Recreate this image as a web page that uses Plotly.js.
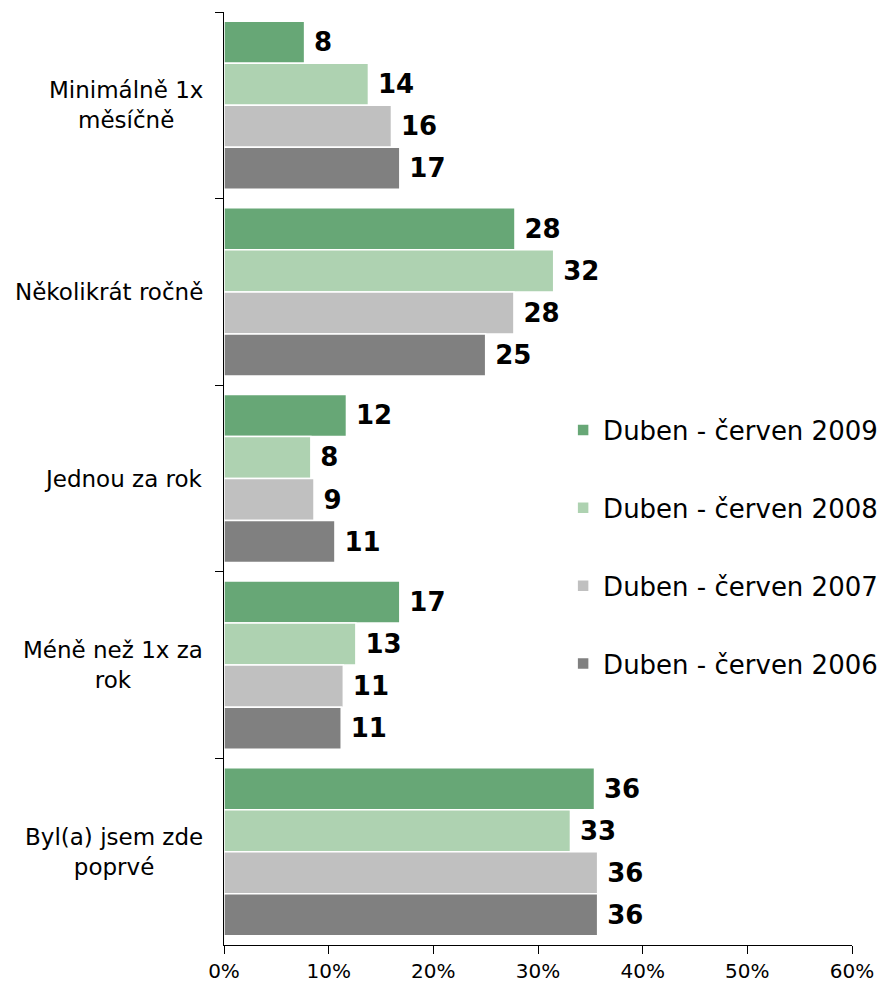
<!DOCTYPE html>
<html>
<head>
<meta charset="utf-8">
<script src="https://cdn.plot.ly/plotly-3.0.1.min.js"></script>
<style>
  html, body { margin: 0; padding: 0; background: #ffffff; }
  #chart { width: 885px; height: 987px; }
</style>
</head>
<body>
<div id="chart"></div>
<script>
// Categories (top to bottom)
const categories = [
  "Minimálně 1x<br>měsíčně",
  "Několikrát ročně",
  "Jednou za rok",
  "Méně než 1x za<br>rok",
  "Byl(a) jsem zde<br>poprvé"
];

// Series names
const seriesNames = [
  "Duben - červen 2009",
  "Duben - červen 2008",
  "Duben - červen 2007",
  "Duben - červen 2006"
];

// Bar lengths (percent)
const values2009 = [7.7, 27.8, 11.7, 16.8, 35.4];
const values2008 = [13.8, 31.5, 8.3, 12.6, 33.1];
const values2007 = [16.0, 27.7, 8.6, 11.4, 35.7];
const values2006 = [16.8, 25.0, 10.6, 11.2, 35.7];

// Data labels shown on the chart
const labels2009 = [8, 28, 12, 17, 36];
const labels2008 = [14, 32, 8, 13, 33];
const labels2007 = [16, 28, 9, 11, 36];
const labels2006 = [17, 25, 11, 11, 36];

// X tick values / labels
const xTickVals = [0, 10, 20, 30, 40, 50, 60];
const xTickText = ["0%", "10%", "20%", "30%", "40%", "50%", "60%"];

const colors = ["#67a776", "#aed2b1", "#c0c0c0", "#808080"];
const allValues = [values2009, values2008, values2007, values2006];
const allLabels = [labels2009, labels2008, labels2007, labels2006];

const traces = allValues.map((vals, i) => ({
  type: "bar",
  orientation: "h",
  name: seriesNames[i],
  legendgroup: "g" + i,
  x: vals,
  y: categories,
  text: allLabels[i].map(v => "\u2005" + v),
  textposition: "outside",
  constraintext: "none",
  cliponaxis: false,
  textfont: { family: "Verdana, 'DejaVu Sans', sans-serif", size: 26, color: "#000000", weight: "bold" },
  marker: { color: colors[i], line: { color: "#ffffff", width: 1.5 } },
  hoverinfo: "skip"
}));

const annotations = categories.map(c => ({
  xref: "paper", yref: "y",
  x: 0, y: c,
  xshift: -19,
  xanchor: "right", yanchor: "middle",
  align: "center",
  text: c,
  showarrow: false,
  font: { family: "Verdana, 'DejaVu Sans', sans-serif", size: 23, color: "#000000" }
}));

const layout = {
  width: 885,
  height: 987,
  margin: { l: 224, r: 33, t: 12, b: 42, pad: 0, autoexpand: false },
  paper_bgcolor: "#ffffff",
  plot_bgcolor: "#ffffff",
  barmode: "group",
  bargap: 0.099,
  bargroupgap: 0,
  showlegend: true,
  legend: {
    x: 0.540, y: 0.577,
    xanchor: "left", yanchor: "top",
    traceorder: "grouped",
    tracegroupgap: 41,
    font: { family: "Verdana, 'DejaVu Sans', sans-serif", size: 26, color: "#000000" },
    bgcolor: "rgba(0,0,0,0)",
    itemclick: false
  },
  xaxis: {
    range: [0, 60],
    tickvals: xTickVals,
    ticktext: xTickText,
    ticks: "outside",
    ticklen: 8,
    tickcolor: "#000000",
    tickwidth: 1,
    showline: true,
    linecolor: "#000000",
    linewidth: 1,
    showgrid: false,
    zeroline: false,
    tickfont: { family: "Verdana, 'DejaVu Sans', sans-serif", size: 20, color: "#000000" },
    fixedrange: true
  },
  yaxis: {
    type: "category",
    autorange: "reversed",
    tickson: "boundaries",
    ticks: "outside",
    ticklen: 8,
    tickcolor: "#000000",
    tickwidth: 1,
    showticklabels: false,
    showline: true,
    linecolor: "#000000",
    linewidth: 1,
    showgrid: false,
    zeroline: false,
    fixedrange: true
  },
  annotations: annotations
};

Plotly.newPlot("chart", traces, layout, { displayModeBar: false, staticPlot: true });
</script>
</body>
</html>
